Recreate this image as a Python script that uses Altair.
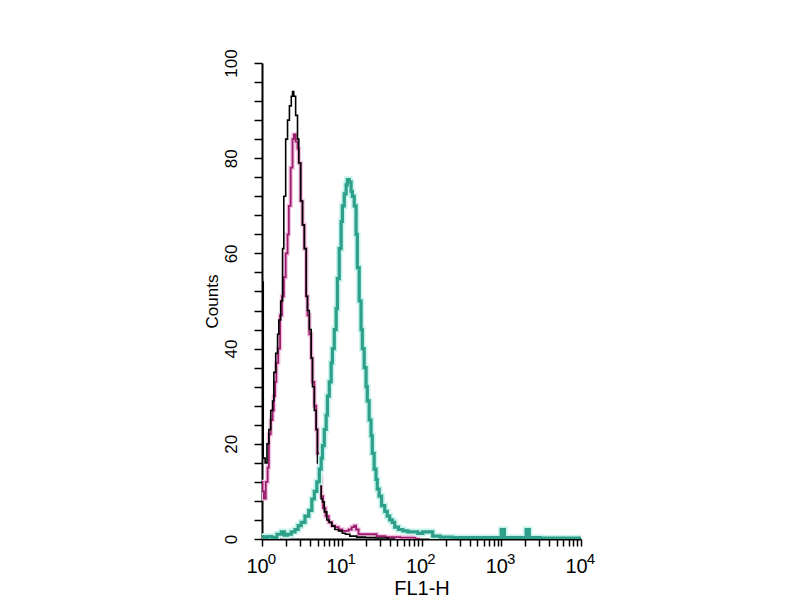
import altair as alt
import pandas as pd

# Channel numbers (64 channels per decade) and counts
black_ch = [0, 2, 3, 5, 6, 8, 9, 10, 12, 13, 14, 16, 17, 18, 20, 21, 23, 24, 25, 26,
            28, 29, 30, 32, 33, 35, 36, 37, 39, 40, 41, 43, 44, 45, 47, 48, 49, 51, 53, 55,
            57, 60, 63, 66, 68, 73, 79, 87, 95, 107]
black_ct = [54, 17, 16, 20, 23, 27, 29, 35, 39, 43, 46, 50, 61, 72, 84, 88, 91, 93, 94, 93,
            89, 84, 79, 71, 66, 61, 51, 48, 44, 38, 32, 27, 23, 16, 12.6, 8.4, 7.8, 5.7, 4, 3.5,
            2.7, 2, 1.7, 1.2, 1, 0.6, 0.4, 0.3, 0.2, 0]

magenta_ch = [0, 1, 2, 4, 5, 6, 8, 9, 10, 11, 12, 14, 15, 17, 18, 20, 21, 22, 24, 25,
              26, 28, 29, 30, 32, 33, 35, 36, 37, 39, 40, 41, 43, 44, 45, 47, 48, 50, 52, 55,
              57, 60, 63, 66, 68, 71, 73, 75, 76, 79, 83, 89, 95, 103, 119, 127]
magenta_ct = [12, 10, 8.5, 12, 15, 22, 25, 27, 30, 33, 37, 40, 47, 51, 55, 60, 64, 70, 78, 84,
              85, 83.5, 82, 79, 71, 66, 61, 51, 47, 43, 38, 33, 28, 23, 18, 13, 9, 6.5, 4.8, 3.5,
              2.8, 2.5, 2, 1.7, 1.7, 2, 2.5, 2.8, 2, 1, 1, 1, 0.6, 0.4, 0.3, 0]

teal_ch = [0, 3, 6, 10, 14, 17, 19, 22, 25, 28, 30, 33, 36, 39, 41, 43, 45, 47, 48, 49,
           51, 52, 53, 55, 56, 57, 59, 60, 61, 63, 64, 65, 67, 68, 69, 71, 72, 73, 75, 76,
           77, 79, 80, 81, 83, 84, 85, 87, 88, 89, 91, 92, 93, 95, 97, 100, 101, 104, 105, 108,
           111, 115, 119, 123, 127, 131, 135, 139, 147, 159, 175, 191, 193, 196, 211, 213, 216, 231, 256]
teal_ct = [0.5, 0.3, 0.5, 0.3, 1, 1.5, 0.8, 1, 1.5, 2, 2.8, 3.5, 4.8, 6, 8.4, 10, 12, 14.7, 17, 19.6,
           23, 26, 30, 33, 37, 40, 44, 48.4, 54.7, 61, 66.7, 70, 72.5, 74.4, 75.5, 75, 73, 72, 70, 64,
           57, 50, 44, 40, 36, 32, 29, 25, 21.7, 18, 14.7, 12.5, 10.5, 9, 7, 5.8, 4.8, 4, 3.5, 2.5,
           2, 1.7, 1.5, 1.5, 1.2, 1.5, 1.5, 0.6, 0.4, 0.3, 0.3, 0.3, 2, 0.3, 0.3, 2, 0.3, 0.2, 0.2]

decades = [1, 10, 100, 1000, 10000]
exponents = ["0", "1", "2", "3", "4"]
y_ticks = list(range(0, 101, 4))
x_ticks = [m * 10 ** d for d in range(4) for m in range(1, 10)] + [10000]


def frame(ch, ct):
    return pd.DataFrame({"fl": [10 ** (c / 64) for c in ch], "count": ct})


xs = alt.Scale(type="log", domain=[1, 10000], nice=False)
ys = alt.Scale(domain=[0, 100], nice=False)

FONT = "Liberation Sans"

x_axis = alt.Axis(
    title="FL1-H", values=x_ticks, grid=False,
    labelExpr="indexof([1,10,100,1000,10000], datum.value) >= 0 ? '10' : ''",
    labelFont=FONT, labelFontSize=20, labelColor="black", labelPadding=10,
    labelOffset=-5, labelFlush=False, labelOverlap=False,
    titleFont=FONT, titleFontSize=20, titleFontWeight="normal", titleColor="black",
    titlePadding=2, domainColor="black", domainWidth=2, tickColor="black",
    tickWidth=1.5, tickSize=7,
)
y_axis = alt.Axis(
    title="Counts", values=y_ticks, grid=False,
    labelExpr="datum.value % 20 == 0 ? datum.label : ''",
    labelAngle=270, labelFont=FONT, labelFontSize=17, labelColor="black",
    labelPadding=14, labelOverlap=False, labelFlush=False,
    titleFont=FONT, titleFontSize=17, titleFontWeight="normal", titleColor="black",
    titlePadding=1, domainColor="black", domainWidth=2, tickColor="black",
    tickWidth=1.5, tickSize=8,
)

enc_x = alt.X("fl:Q", scale=xs, axis=x_axis)
enc_y = alt.Y("count:Q", scale=ys, axis=y_axis)


def line(df, color, width):
    return alt.Chart(df).mark_line(interpolate="step", color=color, strokeWidth=width,
                                   clip=True).encode(x=enc_x, y=enc_y)


bdf = frame(black_ch, black_ct)
mdf = frame(magenta_ch, magenta_ct)
tdf = frame(teal_ch, teal_ct)
edf = pd.DataFrame({"fl": decades, "count": [0] * len(decades), "exp": exponents})

exp_text = alt.Chart(edf).mark_text(
    font=FONT, fontSize=15, color="black", align="center", baseline="middle",
    dx=10, dy=20,
).encode(x=enc_x, y=enc_y, text="exp:N")

chart = alt.layer(
    line(mdf, "#f2c4e2", 4.5),
    line(mdf, "#9b1c6c", 1.8),
    line(bdf, "#000000", 1.6),
    line(tdf, "#c9f3ee", 6.5),
    line(tdf, "#2e9f88", 3.2),
    exp_text,
).properties(
    width=319, height=476,
    autosize=alt.AutoSizeParams(type="none"),
    padding={"left": 254, "top": 55, "right": 200, "bottom": 60},
    background="white",
).configure_view(stroke="transparent", strokeWidth=0)

chart.save("out.html", embed_options={"renderer": "svg", "actions": False})
